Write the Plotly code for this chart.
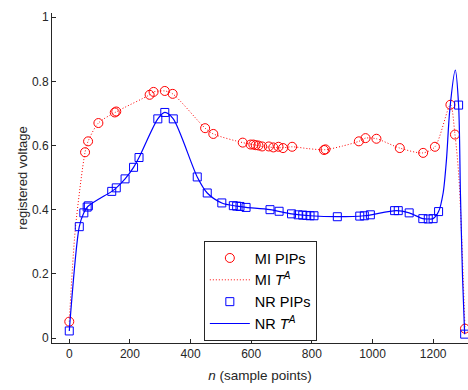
import plotly.graph_objects as go

# MI PIPs (red circles)
mi_pip_n = [0, 52, 62, 96, 150, 155, 265, 278, 315, 341, 448, 475, 572, 598, 607, 615,
            624, 636, 658, 673, 690, 705, 735, 840, 845, 955, 977, 1013, 1090, 1167,
            1206, 1257, 1272, 1305]
mi_pip_v = [0.051, 0.579, 0.613, 0.670, 0.703, 0.706, 0.758, 0.767, 0.770, 0.761, 0.654,
            0.636, 0.609, 0.603, 0.603, 0.601, 0.600, 0.597, 0.597, 0.594, 0.596, 0.592,
            0.596, 0.586, 0.588, 0.613, 0.623, 0.621, 0.592, 0.577, 0.596, 0.727, 0.634,
            0.029]

# NR PIPs (blue squares)
nr_pip_n = [0, 33, 48, 59, 63, 140, 155, 184, 212, 230, 292, 315, 343, 422, 455, 503,
            541, 552, 563, 583, 662, 692, 733, 755, 770, 783, 794, 807, 884, 958, 973,
            993, 1073, 1085, 1121, 1166, 1184, 1200, 1218, 1284, 1304]
nr_pip_v = [0.022, 0.347, 0.390, 0.408, 0.412, 0.457, 0.468, 0.496, 0.532, 0.5625, 0.683,
            0.703, 0.683, 0.502, 0.452, 0.421, 0.4125, 0.411, 0.410, 0.407, 0.400, 0.395,
            0.387, 0.384, 0.383, 0.382, 0.381, 0.381, 0.378, 0.380, 0.381, 0.384, 0.397,
            0.397, 0.390, 0.372, 0.371, 0.372, 0.394, 0.726, 0.012]

# MI T^A curve
mi_line_n = [0, 20, 52, 62, 96, 155, 265, 278, 315, 341, 448, 475, 572, 607, 636, 673,
             705, 735, 790, 843, 900, 955, 977, 1013, 1090, 1167, 1206, 1257, 1272, 1285,
             1305]
mi_line_v = [0.051, 0.34, 0.579, 0.613, 0.670, 0.705, 0.758, 0.767, 0.770, 0.761, 0.654,
             0.636, 0.609, 0.603, 0.597, 0.594, 0.593, 0.596, 0.590, 0.587, 0.598, 0.613,
             0.623, 0.621, 0.592, 0.577, 0.596, 0.727, 0.634, 0.50, 0.029]

# NR T^A curve
nr_line_n = [0, 33, 48, 61, 140, 155, 184, 212, 230, 292, 315, 343, 422, 455, 503, 552,
             583, 662, 733, 794, 884, 973, 1079, 1121, 1166, 1184, 1200, 1218, 1233, 1244,
             1255, 1273, 1284, 1290, 1297, 1304]
nr_line_v = [0.022, 0.347, 0.390, 0.410, 0.457, 0.468, 0.496, 0.532, 0.5625, 0.683, 0.703,
             0.683, 0.502, 0.452, 0.421, 0.411, 0.407, 0.400, 0.387, 0.381, 0.378, 0.381,
             0.397, 0.390, 0.372, 0.371, 0.372, 0.394, 0.452, 0.556, 0.712, 0.835, 0.726,
             0.452, 0.19, 0.012]

font = "Liberation Sans, Arial, sans-serif"
axcol = "#262626"

fig = go.Figure()
fig.add_trace(go.Scatter(x=mi_pip_n, y=mi_pip_v, mode="markers", name="MI PIPs",
                         marker=dict(symbol="circle-open", size=9, color="#ff0000",
                                     line=dict(width=1, color="#ff0000"))))
fig.add_trace(go.Scatter(x=mi_line_n, y=mi_line_v, mode="lines",
                         name="MI <i>T<sup>A</sup></i>",
                         line=dict(color="#ff0000", width=1, dash="1px,2px", shape="spline",
                                   smoothing=0.8)))
fig.add_trace(go.Scatter(x=nr_pip_n, y=nr_pip_v, mode="markers", name="NR PIPs",
                         marker=dict(symbol="square-open", size=8, color="#0000ff",
                                     line=dict(width=1, color="#0000ff"))))
fig.add_trace(go.Scatter(x=nr_line_n, y=nr_line_v, mode="lines",
                         name="NR <i>T<sup>A</sup></i>",
                         line=dict(color="#0000ff", width=1.2, shape="spline", smoothing=0.8)))

fig.update_layout(
    width=468, height=390,
    margin=dict(l=52, r=0, t=13, b=47),
    paper_bgcolor="white", plot_bgcolor="white",
    font=dict(family=font, size=12, color=axcol),
    showlegend=True,
    legend=dict(x=0.365, y=0.309, xanchor="left", yanchor="top",
                bgcolor="white", bordercolor=axcol, borderwidth=1,
                font=dict(family=font, size=14.5, color="#000000"),
                tracegroupgap=0, itemwidth=40),
    xaxis=dict(range=[-57, 1315], tickvals=[0, 200, 400, 600, 800, 1000, 1200],
               ticks="inside", ticklen=4, tickcolor=axcol, showline=True, linecolor=axcol,
               linewidth=1, showgrid=False, zeroline=False,
               tickfont=dict(size=12, color=axcol),
               title=dict(text="<i>n</i> (sample points)", font=dict(size=13.5, color=axcol),
                          standoff=10)),
    yaxis=dict(range=[-0.0156, 1.013], tickvals=[0, 0.2, 0.4, 0.6, 0.8, 1],
               ticktext=["0", "0.2", "0.4", "0.6", "0.8", "1"],
               ticks="inside", ticklen=4, tickcolor=axcol, showline=True, linecolor=axcol,
               linewidth=1, showgrid=False, zeroline=False,
               tickfont=dict(size=12, color=axcol),
               title=dict(text="registered voltage", font=dict(size=13, color=axcol),
                          standoff=1)),
)

fig.write_html("out.html")
